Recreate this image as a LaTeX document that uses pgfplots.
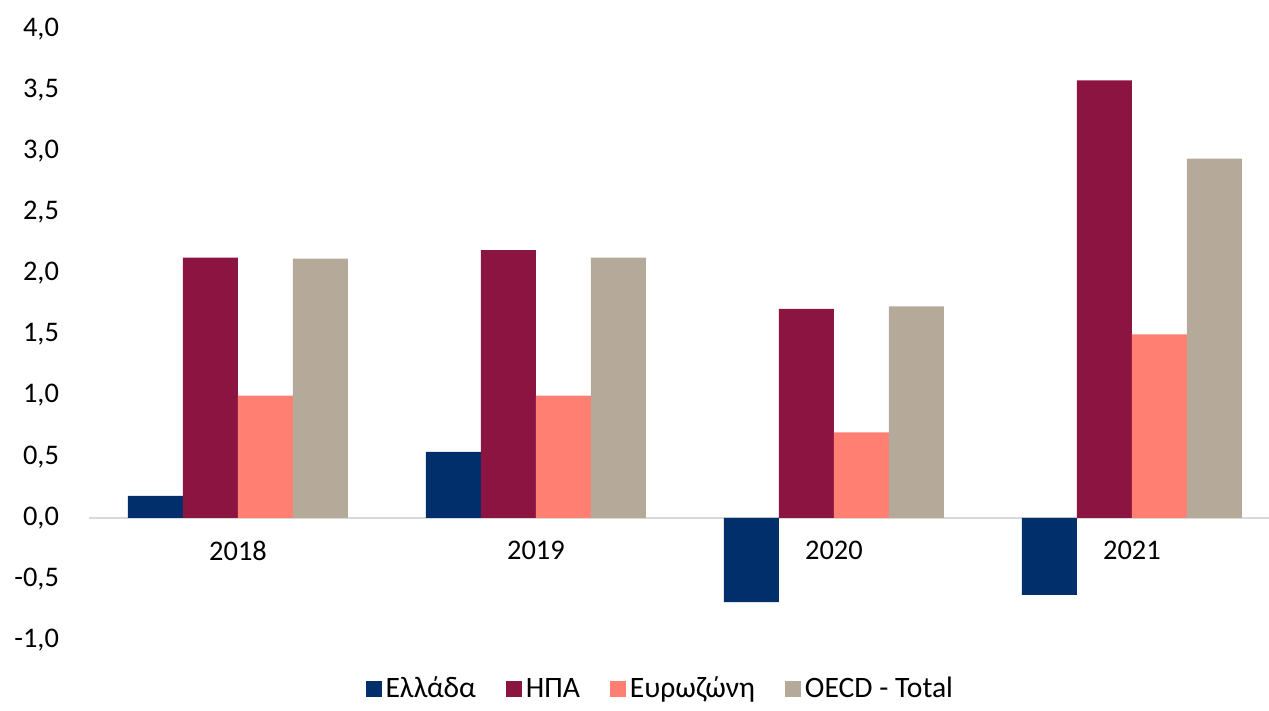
\documentclass[border=0pt]{standalone}
\usepackage{pgfplots}
\pgfplotsset{compat=1.18}
\usepackage{fontspec}
\setmainfont{Carlito}
\definecolor{cGR}{RGB}{0,47,108}
\definecolor{cUS}{RGB}{139,21,64}
\definecolor{cEZ}{RGB}{255,128,114}
\definecolor{cOE}{RGB}{181,169,153}
\newcommand\f{\fontsize{14.2pt}{17pt}\selectfont}
\newcommand\fl{\fontsize{14.8pt}{17pt}\selectfont}
\begin{document}
\begin{tikzpicture}
\useasboundingbox (0,0) rectangle (634.5pt,355.5pt);
\begin{axis}[
  at={(44.5pt,35.5pt)}, anchor=south west,
  scale only axis, width=590pt, height=305.5pt,
  xmin=-0.5, xmax=3.46, ymin=-1, ymax=4,
  ybar=0pt, bar width=27.5pt,
  axis x line=middle, axis y line=left,
  y axis line style={draw=none},
  x axis line style={-, draw=black!15, line width=1.2pt},
  xtick={0,1,2,3}, xticklabels={2018,2019,2020,2021},
  ytick={-1,-0.5,0,0.5,1,1.5,2,2.5,3,3.5,4},
  major tick length=0pt,
  tick label style={font=\f, text=black},
  xticklabel style={yshift=-8pt},
  yticklabel style={xshift=-11.5pt},
  /pgf/number format/.cd, use comma, fixed, fixed zerofill, precision=1, assume math mode=true,
  /pgfplots/.cd,
  legend columns=4,
  legend style={at={(0.485,-0.047)}, anchor=north, draw=none, font=\fl,
    /tikz/every even column/.append style={column sep=13pt}},
  legend image code/.code={\fill[#1] (0pt,-4pt) rectangle (8pt,4pt);},
]
\addplot[fill=cGR, draw=none] coordinates {(0,0.18) (1,0.54) (2,-0.69) (3,-0.63)};
\addplot[fill=cUS, draw=none] coordinates {(0,2.13) (1,2.19) (2,1.71) (3,3.58)};
\addplot[fill=cEZ, draw=none] coordinates {(0,1.00) (1,1.00) (2,0.70) (3,1.50)};
\addplot[fill=cOE, draw=none] coordinates {(0,2.12) (1,2.13) (2,1.73) (3,2.94)};
\legend{Ελλάδα, ΗΠΑ, Ευρωζώνη, OECD - Total}
\end{axis}
\end{tikzpicture}
\end{document}
